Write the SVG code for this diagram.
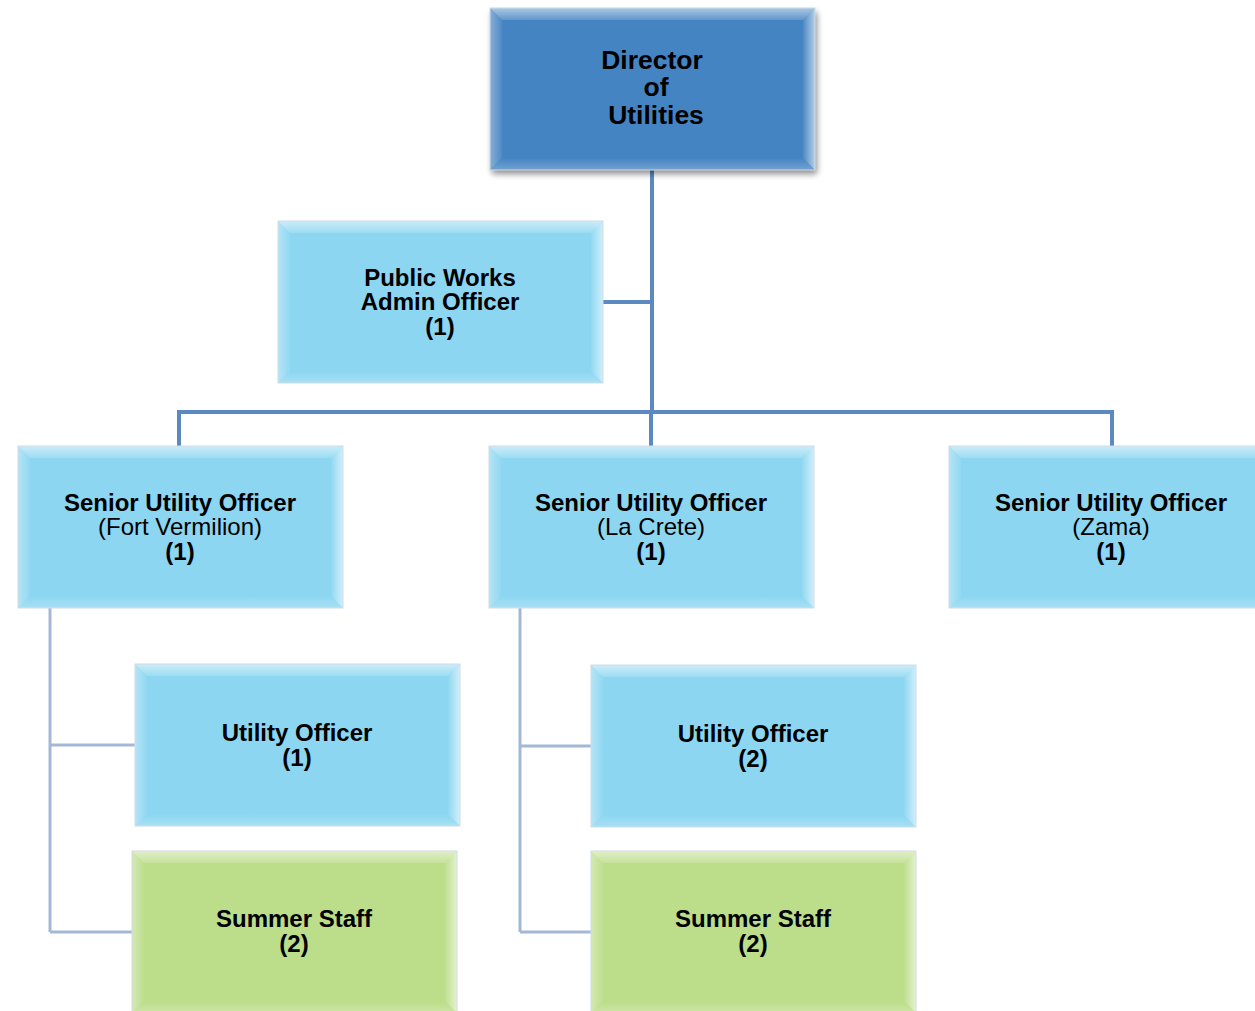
<svg xmlns="http://www.w3.org/2000/svg" xmlns:xlink="http://www.w3.org/1999/xlink" width="1255" height="1011" viewBox="0 0 1255 1011">
<style>
text{font-family:"Liberation Sans",Arial,sans-serif;fill:#000;text-anchor:middle}
.b{font-weight:bold;font-size:24px}
.n{font-weight:normal;font-size:24px}
.d{font-weight:bold;font-size:26.5px}
.blue{fill:#8CD6F1}
.dark{fill:#4484C2}
.green{fill:#BCDD89}
.edge{fill:none;stroke:#D0DCE6;stroke-width:1}
.c1{fill:none;stroke:#5B8AC3;stroke-width:4}
.c2{fill:none;stroke:#A3B7D6;stroke-width:3}
</style>
<defs>
<linearGradient id="gt" x1="0" y1="0" x2="0" y2="1"><stop offset="0" stop-color="#fff" stop-opacity="0.55"/><stop offset="1" stop-color="#fff" stop-opacity="0.15"/></linearGradient>
<linearGradient id="gl" x1="0" y1="0" x2="1" y2="0"><stop offset="0" stop-color="#fff" stop-opacity="0.35"/><stop offset="1" stop-color="#fff" stop-opacity="0.05"/></linearGradient>
<linearGradient id="gr" x1="1" y1="0" x2="0" y2="0"><stop offset="0" stop-color="#fff" stop-opacity="0.6"/><stop offset="1" stop-color="#fff" stop-opacity="0.05"/></linearGradient>
<linearGradient id="gb" x1="0" y1="1" x2="0" y2="0"><stop offset="0" stop-color="#fff" stop-opacity="0.25"/><stop offset="1" stop-color="#fff" stop-opacity="0"/></linearGradient>
<g id="bevel">
<polygon points="0,0 325,0 313,12 12,12" fill="url(#gt)"/>
<polygon points="0,0 12,12 12,150 0,162" fill="url(#gl)"/>
<polygon points="325,0 325,162 313,150 313,12" fill="url(#gr)"/>
<polygon points="0,162 12,150 313,150 325,162" fill="url(#gb)"/>
<rect x="0" y="0" width="325" height="162" class="edge"/>
</g>
<filter id="sh" x="-5%" y="-5%" width="115%" height="120%"><feGaussianBlur in="SourceAlpha" stdDeviation="3"/><feOffset dx="2" dy="4"/><feComponentTransfer><feFuncA type="linear" slope="0.45"/></feComponentTransfer><feMerge><feMergeNode/><feMergeNode in="SourceGraphic"/></feMerge></filter>
</defs>

<g id="connectors">
<path class="c1" d="M652,170 V412 M603,302 H652 M179,446 V412 H1112 V446 M651,412 V446"/>
<path class="c2" d="M50,608 V932 M50,745 H135 M50,932 H132 M520,608 V932 M520,746 H591 M520,932 H591"/>
</g>

<g id="director" transform="translate(490,8)">
<g filter="url(#sh)"><rect width="325" height="162" class="dark"/></g>
<use xlink:href="#bevel"/>
<text class="d" x="162" y="61">Director</text>
<text class="d" x="166" y="88">of</text>
<text class="d" x="166" y="116">Utilities</text>
</g>

<g id="admin" transform="translate(278,221)">
<rect width="325" height="162" class="blue"/>
<use xlink:href="#bevel"/>
<text class="b" x="162" y="65">Public Works</text>
<text class="b" x="162" y="89">Admin Officer</text>
<text class="b" x="162" y="114">(1)</text>
</g>

<g id="suo-fv" transform="translate(18,446)">
<rect width="325" height="162" class="blue"/>
<use xlink:href="#bevel"/>
<text class="b" x="162" y="65">Senior Utility Officer</text>
<text class="n" x="162" y="89">(Fort Vermilion)</text>
<text class="b" x="162" y="114">(1)</text>
</g>

<g id="suo-lc" transform="translate(489,446)">
<rect width="325" height="162" class="blue"/>
<use xlink:href="#bevel"/>
<text class="b" x="162" y="65">Senior Utility Officer</text>
<text class="n" x="162" y="89">(La Crete)</text>
<text class="b" x="162" y="114">(1)</text>
</g>

<g id="suo-zama" transform="translate(949,446)">
<rect width="325" height="162" class="blue"/>
<use xlink:href="#bevel"/>
<text class="b" x="162" y="65">Senior Utility Officer</text>
<text class="n" x="162" y="89">(Zama)</text>
<text class="b" x="162" y="114">(1)</text>
</g>

<g id="uo-1" transform="translate(135,664)">
<rect width="325" height="162" class="blue"/>
<use xlink:href="#bevel"/>
<text class="b" x="162" y="77">Utility Officer</text>
<text class="b" x="162" y="102">(1)</text>
</g>

<g id="uo-2" transform="translate(591,665)">
<rect width="325" height="162" class="blue"/>
<use xlink:href="#bevel"/>
<text class="b" x="162" y="77">Utility Officer</text>
<text class="b" x="162" y="102">(2)</text>
</g>

<g id="ss-1" transform="translate(132,851)">
<rect width="325" height="162" class="green"/>
<use xlink:href="#bevel"/>
<text class="b" x="162" y="76">Summer Staff</text>
<text class="b" x="162" y="101">(2)</text>
</g>

<g id="ss-2" transform="translate(591,851)">
<rect width="325" height="162" class="green"/>
<use xlink:href="#bevel"/>
<text class="b" x="162" y="76">Summer Staff</text>
<text class="b" x="162" y="101">(2)</text>
</g>
</svg>
